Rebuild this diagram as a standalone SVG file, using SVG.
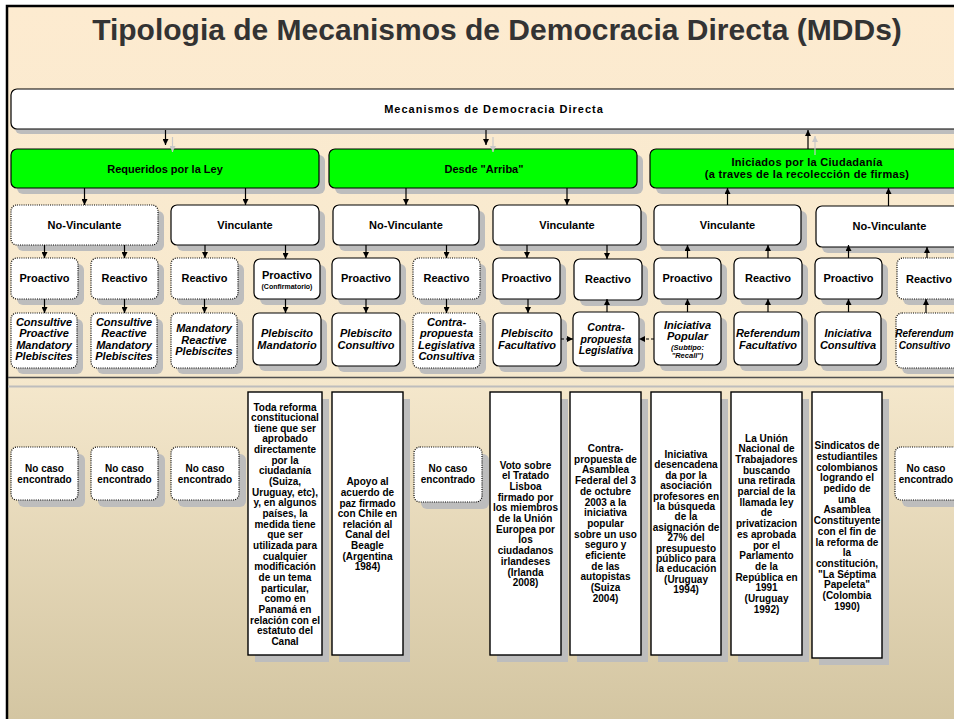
<svg xmlns="http://www.w3.org/2000/svg" width="954" height="719" viewBox="0 0 954 719">
<defs>
<linearGradient id="bg" x1="0" y1="0" x2="0" y2="1">
<stop offset="0" stop-color="#FDEBD0"/>
<stop offset="0.5" stop-color="#F6E9CE"/>
<stop offset="1" stop-color="#D3C5A1"/>
</linearGradient>
<marker id="ah" markerWidth="6" markerHeight="6" refX="6" refY="3" orient="auto" markerUnits="userSpaceOnUse">
<path d="M0,0 L6,3 L0,6 z" fill="#000"/>
</marker>
<marker id="ahg" markerWidth="6" markerHeight="6" refX="6" refY="3" orient="auto" markerUnits="userSpaceOnUse">
<path d="M0,0 L6,3 L0,6 z" fill="#C8C8C8"/>
</marker>
</defs>
<style>
.sh{fill:#BDBDBD}
.bx{fill:#fff;stroke:#000;stroke-width:1.2}
.dt{fill:#fff;stroke:#000;stroke-width:1.2;stroke-dasharray:1 1.2}
.gr{fill:#00FF00;stroke:#000;stroke-width:1.2}
.tb{fill:#fff;stroke:#000;stroke-width:1.4}
.t{font-family:"Liberation Sans",Arial,sans-serif;font-weight:bold;font-size:11px;text-anchor:middle;fill:#000}
.i{font-style:italic}
.sm{font-size:10px}
.xs{font-size:7px}
.c{stroke:#000;stroke-width:1.2;fill:none;marker-end:url(#ah)}
.cg{stroke:#C8C8C8;stroke-width:1.2;fill:none;marker-end:url(#ahg)}
.cd{stroke:#000;stroke-width:1.1;fill:none;stroke-dasharray:3 2;marker-end:url(#ah)}
</style>
<rect x="0" y="0" width="954" height="719" fill="#fff"/>
<rect x="7" y="6" width="960" height="720" fill="url(#bg)" stroke="#000" stroke-width="2.5"/>
<text x="497" y="40" font-family="Liberation Sans, Arial, sans-serif" font-weight="bold" font-size="30" text-anchor="middle" fill="#333">Tipologia de Mecanismos de Democracia Directa (MDDs)</text>

<line x1="8" y1="377.5" x2="954" y2="377.5" stroke="#505050" stroke-width="1.5"/>
<line x1="8" y1="386.5" x2="954" y2="386.5" stroke="#BDBDBD" stroke-width="2"/>

<g id="root">
<rect class="sh" x="15" y="94" width="960" height="40" rx="6"/>
<rect class="bx" x="11" y="89" width="960" height="40" rx="6"/>
<text class="t" x="494" y="113" letter-spacing="1">Mecanismos de Democracia Directa</text>
</g>

<g id="g-ley">
<rect class="sh" x="17" y="155" width="308" height="39" rx="6"/>
<rect class="gr" x="11" y="149" width="308" height="39" rx="6"/>
<text class="t" x="165" y="173">Requeridos por la Ley</text>
</g>
<g id="g-arriba">
<rect class="sh" x="335" y="155" width="308" height="39" rx="6"/>
<rect class="gr" x="329" y="149" width="308" height="39" rx="6"/>
<text class="t" x="484" y="173">Desde "Arriba"</text>
</g>
<g id="g-ciud">
<rect class="sh" x="656" y="155" width="310" height="39" rx="6"/>
<rect class="gr" x="650" y="149" width="310" height="39" rx="6"/>
<text class="t" x="807" y="166" letter-spacing="0.3">Iniciados por la Ciudadanía</text>
<text class="t" x="807" y="178" letter-spacing="0.3">(a traves de la recolección de firmas)</text>
</g>

<g id="r2-1"><rect class="sh" x="17" y="211" width="147" height="40" rx="6"/><rect class="dt" x="11" y="205" width="147" height="40" rx="6"/><text class="t" x="84.5" y="229">No-Vinculante</text></g>
<g id="r2-2"><rect class="sh" x="177" y="211" width="148" height="40" rx="6"/><rect class="bx" x="171" y="205" width="148" height="40" rx="6"/><text class="t" x="245" y="229">Vinculante</text></g>
<g id="r2-3"><rect class="sh" x="339" y="211" width="146" height="40" rx="6"/><rect class="bx" x="333" y="205" width="146" height="40" rx="6"/><text class="t" x="406" y="229">No-Vinculante</text></g>
<g id="r2-4"><rect class="sh" x="499" y="211" width="148" height="40" rx="6"/><rect class="bx" x="493" y="205" width="148" height="40" rx="6"/><text class="t" x="567" y="229">Vinculante</text></g>
<g id="r2-5"><rect class="sh" x="660" y="211" width="147" height="40" rx="6"/><rect class="bx" x="654" y="205" width="147" height="40" rx="6"/><text class="t" x="727.5" y="229">Vinculante</text></g>
<g id="r2-6"><rect class="sh" x="822" y="212" width="148" height="41" rx="6"/><rect class="bx" x="816" y="206" width="148" height="41" rx="6"/><text class="t" x="889.5" y="230">No-Vinculante</text></g>

<g id="r3-1"><rect class="sh" x="17" y="264" width="67" height="41" rx="6"/><rect class="dt" x="11" y="258" width="67" height="41" rx="6"/><text class="t" x="44.5" y="282">Proactivo</text></g>
<g id="r3-2"><rect class="sh" x="97" y="264" width="67" height="41" rx="6"/><rect class="dt" x="91" y="258" width="67" height="41" rx="6"/><text class="t" x="124.5" y="282">Reactivo</text></g>
<g id="r3-3"><rect class="sh" x="177" y="264" width="67" height="41" rx="6"/><rect class="dt" x="171" y="258" width="67" height="41" rx="6"/><text class="t" x="204.5" y="282">Reactivo</text></g>
<g id="r3-4"><rect class="sh" x="260" y="265" width="66" height="40" rx="6"/><rect class="bx" x="254" y="259" width="66" height="40" rx="6" stroke-width="1.5"/><text class="t" x="287" y="279">Proactivo</text><text class="t xs" x="287" y="288.5">(Confirmatorio)</text></g>
<g id="r3-5"><rect class="sh" x="338" y="264" width="68" height="41" rx="6"/><rect class="bx" x="332" y="258" width="68" height="41" rx="6"/><text class="t" x="366" y="282">Proactivo</text></g>
<g id="r3-6"><rect class="sh" x="419" y="264" width="67" height="41" rx="6"/><rect class="dt" x="413" y="258" width="67" height="41" rx="6"/><text class="t" x="446.5" y="282">Reactivo</text></g>
<g id="r3-7"><rect class="sh" x="499" y="264" width="67" height="41" rx="6"/><rect class="bx" x="493" y="258" width="67" height="41" rx="6"/><text class="t" x="526.5" y="282">Proactivo</text></g>
<g id="r3-8"><rect class="sh" x="580" y="265" width="68" height="41" rx="6"/><rect class="bx" x="574" y="259" width="68" height="41" rx="6" stroke-width="1.5"/><text class="t" x="608" y="283">Reactivo</text></g>
<g id="r3-9"><rect class="sh" x="660" y="264" width="67" height="41" rx="6"/><rect class="bx" x="654" y="258" width="67" height="41" rx="6"/><text class="t" x="687.5" y="282">Proactivo</text></g>
<g id="r3-10"><rect class="sh" x="740" y="264" width="68" height="41" rx="6"/><rect class="bx" x="734" y="258" width="68" height="41" rx="6"/><text class="t" x="768" y="282">Reactivo</text></g>
<g id="r3-11"><rect class="sh" x="821" y="264" width="67" height="41" rx="6"/><rect class="bx" x="815" y="258" width="67" height="41" rx="6"/><text class="t" x="848.5" y="282">Proactivo</text></g>
<g id="r3-12"><rect class="sh" x="903" y="264" width="68" height="41" rx="6"/><rect class="dt" x="897" y="258" width="68" height="41" rx="6"/><text class="t" x="929" y="283">Reactivo</text></g>

<g id="r4-1"><rect class="sh" x="17" y="319" width="66" height="55" rx="6"/><rect class="dt" x="11" y="313" width="66" height="55" rx="6"/>
<text class="t i" x="44" y="325.5">Consultive<tspan x="44" dy="11.6">Proactive</tspan><tspan x="44" dy="11.6">Mandatory</tspan><tspan x="44" dy="11.6">Plebiscites</tspan></text></g>
<g id="r4-2"><rect class="sh" x="97" y="319" width="66" height="55" rx="6"/><rect class="dt" x="91" y="313" width="66" height="55" rx="6"/>
<text class="t i" x="124" y="325.5">Consultive<tspan x="124" dy="11.6">Reactive</tspan><tspan x="124" dy="11.6">Mandatory</tspan><tspan x="124" dy="11.6">Plebiscites</tspan></text></g>
<g id="r4-3"><rect class="sh" x="177" y="319" width="66" height="55" rx="6"/><rect class="dt" x="171" y="313" width="66" height="55" rx="6"/>
<text class="t i" x="204" y="332">Mandatory<tspan x="204" dy="11.6">Reactive</tspan><tspan x="204" dy="11.6">Plebiscites</tspan></text></g>
<g id="r4-4"><rect class="sh" x="259" y="319" width="68" height="52" rx="6"/><rect class="bx" x="253" y="313" width="68" height="52" rx="6" stroke-width="1.5"/>
<text class="t i" x="287" y="337">Plebiscito<tspan x="287" dy="11.6">Mandatorio</tspan></text></g>
<g id="r4-5"><rect class="sh" x="338" y="319" width="68" height="53" rx="6"/><rect class="bx" x="332" y="313" width="68" height="53" rx="6"/>
<text class="t i" x="366" y="337">Plebiscito<tspan x="366" dy="11.6">Consultivo</tspan></text></g>
<g id="r4-6"><rect class="sh" x="419" y="319" width="67" height="55" rx="6"/><rect class="dt" x="413" y="313" width="67" height="55" rx="6"/>
<text class="t i" x="446.5" y="325.5">Contra-<tspan x="446.5" dy="11.6">propuesta</tspan><tspan x="446.5" dy="11.6">Legislativa</tspan><tspan x="446.5" dy="11.6">Consultiva</tspan></text></g>
<g id="r4-7"><rect class="sh" x="499" y="319" width="68" height="53" rx="6"/><rect class="bx" x="493" y="313" width="68" height="53" rx="6"/>
<text class="t i" x="527" y="337">Plebiscito<tspan x="527" dy="11.6">Facultativo</tspan></text></g>
<g id="r4-8"><rect class="sh" x="579" y="318" width="66" height="54" rx="6"/><rect class="bx" x="573" y="312" width="66" height="54" rx="6" stroke-width="1.5"/>
<text class="t i" x="606" y="331" style="font-size:10.5px">Contra-<tspan x="606" dy="11.5">propuesta</tspan><tspan x="606" dy="11.5">Legislativa</tspan></text></g>
<g id="r4-9"><rect class="sh" x="660" y="318" width="67" height="53" rx="6"/><rect class="bx" x="654" y="312" width="67" height="53" rx="6"/>
<text class="t i" x="687.5" y="328.5">Iniciativa<tspan x="687.5" dy="11.5">Popular</tspan></text>
<text class="t i" x="687.5" y="349.5" style="font-size:7.5px">(Subtipo:<tspan x="687.5" dy="8">"Recall")</tspan></text></g>
<g id="r4-10"><rect class="sh" x="740" y="318" width="68" height="53" rx="6"/><rect class="bx" x="734" y="312" width="68" height="53" rx="6"/>
<text class="t i" x="768" y="337">Referendum<tspan x="768" dy="11.6">Facultativo</tspan></text></g>
<g id="r4-11"><rect class="sh" x="821" y="318" width="66" height="53" rx="6"/><rect class="bx" x="815" y="312" width="66" height="53" rx="6"/>
<text class="t i" x="848" y="337">Iniciativa<tspan x="848" dy="11.6">Consultiva</tspan></text></g>
<g id="r4-12"><rect class="sh" x="902" y="319" width="68" height="55" rx="6"/><rect class="dt" x="896" y="313" width="68" height="55" rx="6"/>
<text class="t i" x="924.5" y="337" style="font-size:10px">Referendum<tspan x="924.5" dy="11.6">Consultivo</tspan></text></g>

<g id="e-1"><rect class="sh" x="18" y="454" width="67" height="53" rx="6"/><rect class="dt" x="11" y="447" width="67" height="53" rx="6"/><text class="t sm" x="44.5" y="471.5">No caso<tspan x="44.5" dy="11">encontrado</tspan></text></g>
<g id="e-2"><rect class="sh" x="98" y="454" width="67" height="53" rx="6"/><rect class="dt" x="91" y="447" width="67" height="53" rx="6"/><text class="t sm" x="124.5" y="471.5">No caso<tspan x="124.5" dy="11">encontrado</tspan></text></g>
<g id="e-3"><rect class="sh" x="178" y="454" width="68" height="53" rx="6"/><rect class="dt" x="171" y="447" width="68" height="53" rx="6"/><text class="t sm" x="205" y="471.5">No caso<tspan x="205" dy="11">encontrado</tspan></text></g>
<g id="e-4"><rect class="sh" x="255" y="399" width="74" height="263"/><rect class="tb" x="248" y="392" width="74" height="263"/>
<text class="t sm" x="285" y="410.5">Toda reforma<tspan x="285" dy="10.65">constitucional</tspan><tspan x="285" dy="10.65">tiene que ser</tspan><tspan x="285" dy="10.65">aprobado</tspan><tspan x="285" dy="10.65">directamente</tspan><tspan x="285" dy="10.65">por la</tspan><tspan x="285" dy="10.65">ciudadanía</tspan><tspan x="285" dy="10.65">(Suiza,</tspan><tspan x="285" dy="10.65">Uruguay, etc),</tspan><tspan x="285" dy="10.65">y, en algunos</tspan><tspan x="285" dy="10.65">países, la</tspan><tspan x="285" dy="10.65">medida tiene</tspan><tspan x="285" dy="10.65">que ser</tspan><tspan x="285" dy="10.65">utilizada para</tspan><tspan x="285" dy="10.65">cualquier</tspan><tspan x="285" dy="10.65">modificación</tspan><tspan x="285" dy="10.65">de un tema</tspan><tspan x="285" dy="10.65">particular,</tspan><tspan x="285" dy="10.65">como en</tspan><tspan x="285" dy="10.65">Panamá en</tspan><tspan x="285" dy="10.65">relación con el</tspan><tspan x="285" dy="10.65">estatuto del</tspan><tspan x="285" dy="10.65">Canal</tspan></text></g>
<g id="e-5"><rect class="sh" x="339" y="399" width="71" height="263"/><rect class="tb" x="332" y="392" width="71" height="263"/>
<text class="t sm" x="367.5" y="485.2">Apoyo al<tspan x="367.5" dy="10.65">acuerdo de</tspan><tspan x="367.5" dy="10.65">paz firmado</tspan><tspan x="367.5" dy="10.65">con Chile en</tspan><tspan x="367.5" dy="10.65">relación al</tspan><tspan x="367.5" dy="10.65">Canal del</tspan><tspan x="367.5" dy="10.65">Beagle</tspan><tspan x="367.5" dy="10.65">(Argentina</tspan><tspan x="367.5" dy="10.65">1984)</tspan></text></g>
<g id="e-6"><rect class="sh" x="421" y="454" width="68" height="55" rx="6"/><rect class="dt" x="414" y="447" width="68" height="55" rx="6"/><text class="t sm" x="448" y="471.5">No caso<tspan x="448" dy="11">encontrado</tspan></text></g>
<g id="e-7"><rect class="sh" x="497" y="399" width="71" height="263"/><rect class="tb" x="490" y="392" width="71" height="263"/>
<text class="t sm" x="525.5" y="468.5">Voto sobre<tspan x="525.5" dy="10.7">el Tratado</tspan><tspan x="525.5" dy="10.7">Lisboa</tspan><tspan x="525.5" dy="10.7">firmado por</tspan><tspan x="525.5" dy="10.7">los miembros</tspan><tspan x="525.5" dy="10.7">de la Unión</tspan><tspan x="525.5" dy="10.7">Europea por</tspan><tspan x="525.5" dy="10.7">los</tspan><tspan x="525.5" dy="10.7">ciudadanos</tspan><tspan x="525.5" dy="10.7">irlandeses</tspan><tspan x="525.5" dy="10.7">(Irlanda</tspan><tspan x="525.5" dy="10.7">2008)</tspan></text></g>
<g id="e-8"><rect class="sh" x="577" y="399" width="71" height="263"/><rect class="tb" x="570" y="392" width="71" height="263"/>
<text class="t sm" x="605.5" y="452">Contra-<tspan x="605.5" dy="10.7">propuesta de</tspan><tspan x="605.5" dy="10.7">Asamblea</tspan><tspan x="605.5" dy="10.7">Federal del 3</tspan><tspan x="605.5" dy="10.7">de octubre</tspan><tspan x="605.5" dy="10.7">2003 a la</tspan><tspan x="605.5" dy="10.7">iniciativa</tspan><tspan x="605.5" dy="10.7">popular</tspan><tspan x="605.5" dy="10.7">sobre un uso</tspan><tspan x="605.5" dy="10.7">seguro y</tspan><tspan x="605.5" dy="10.7">eficiente</tspan><tspan x="605.5" dy="10.7">de las</tspan><tspan x="605.5" dy="10.7">autopistas</tspan><tspan x="605.5" dy="10.7">(Suiza</tspan><tspan x="605.5" dy="10.7">2004)</tspan></text></g>
<g id="e-9"><rect class="sh" x="658" y="399" width="70" height="263"/><rect class="tb" x="651" y="392" width="70" height="263"/>
<text class="t sm" x="686" y="458">Iniciativa<tspan x="686" dy="10.4">desencadena</tspan><tspan x="686" dy="10.4">da por la</tspan><tspan x="686" dy="10.4">asociación</tspan><tspan x="686" dy="10.4">profesores en</tspan><tspan x="686" dy="10.4">la búsqueda</tspan><tspan x="686" dy="10.4">de la</tspan><tspan x="686" dy="10.4">asignación de</tspan><tspan x="686" dy="10.4">27% del</tspan><tspan x="686" dy="10.4">presupuesto</tspan><tspan x="686" dy="10.4">público para</tspan><tspan x="686" dy="10.4">la educación</tspan><tspan x="686" dy="10.4">(Uruguay</tspan><tspan x="686" dy="10.4">1994)</tspan></text></g>
<g id="e-10"><rect class="sh" x="738" y="399" width="71" height="263"/><rect class="tb" x="731" y="392" width="71" height="263"/>
<text class="t sm" x="766.5" y="441.8">La Unión<tspan x="766.5" dy="10.67">Nacional de</tspan><tspan x="766.5" dy="10.67">Trabajadores</tspan><tspan x="766.5" dy="10.67">buscando</tspan><tspan x="766.5" dy="10.67">una retirada</tspan><tspan x="766.5" dy="10.67">parcial de la</tspan><tspan x="766.5" dy="10.67">llamada ley</tspan><tspan x="766.5" dy="10.67">de</tspan><tspan x="766.5" dy="10.67">privatizacion</tspan><tspan x="766.5" dy="10.67">es aprobada</tspan><tspan x="766.5" dy="10.67">por el</tspan><tspan x="766.5" dy="10.67">Parlamento</tspan><tspan x="766.5" dy="10.67">de la</tspan><tspan x="766.5" dy="10.67">República en</tspan><tspan x="766.5" dy="10.67">1991</tspan><tspan x="766.5" dy="10.67">(Uruguay</tspan><tspan x="766.5" dy="10.67">1992)</tspan></text></g>
<g id="e-11"><rect class="sh" x="819" y="399" width="70" height="266"/><rect class="tb" x="812" y="392" width="70" height="266"/>
<text class="t sm" x="847" y="449.2">Sindicatos de<tspan x="847" dy="10.7">estudiantiles</tspan><tspan x="847" dy="10.7">colombianos</tspan><tspan x="847" dy="10.7">logrando el</tspan><tspan x="847" dy="10.7">pedido de</tspan><tspan x="847" dy="10.7">una</tspan><tspan x="847" dy="10.7">Asamblea</tspan><tspan x="847" dy="10.7">Constituyente</tspan><tspan x="847" dy="10.7">con el fin de</tspan><tspan x="847" dy="10.7">la reforma de</tspan><tspan x="847" dy="10.7">la</tspan><tspan x="847" dy="10.7">constitución,</tspan><tspan x="847" dy="10.7">"La Séptima</tspan><tspan x="847" dy="10.7">Papeleta"</tspan><tspan x="847" dy="10.7">(Colombia</tspan><tspan x="847" dy="10.7">1990)</tspan></text></g>
<g id="e-12"><rect class="sh" x="902" y="454" width="68" height="53" rx="6"/><rect class="dt" x="895" y="447" width="68" height="53" rx="6"/><text class="t sm" x="926" y="471.5">No caso<tspan x="926" dy="11">encontrado</tspan></text></g>

<g id="connectors">
<line class="cg" x1="172.5" y1="137" x2="172.5" y2="152"/>
<line class="c" x1="165.5" y1="130" x2="165.5" y2="145"/>
<line class="cg" x1="493" y1="137" x2="493" y2="152"/>
<line class="c" x1="486" y1="130" x2="486" y2="145"/>
<line class="cg" x1="815" y1="155" x2="815" y2="136"/>
<line class="c" x1="808" y1="149" x2="808" y2="130"/>

<line class="c" x1="84.5" y1="188" x2="84.5" y2="205"/>
<line class="c" x1="245.5" y1="188" x2="245.5" y2="205"/>
<line class="c" x1="406" y1="188" x2="406" y2="205"/>
<line class="c" x1="567" y1="188" x2="567" y2="205"/>
<line class="c" x1="727.5" y1="205" x2="727.5" y2="188"/>
<line class="c" x1="888.5" y1="206" x2="888.5" y2="188"/>

<line class="c" x1="44.5" y1="245" x2="44.5" y2="258"/>
<line class="c" x1="124.5" y1="245" x2="124.5" y2="258"/>
<line class="c" x1="205" y1="245" x2="205" y2="258"/>
<line class="c" x1="285.5" y1="245" x2="285.5" y2="259"/>
<line class="c" x1="366" y1="245" x2="366" y2="258"/>
<line class="c" x1="446.5" y1="245" x2="446.5" y2="258"/>
<line class="c" x1="527" y1="245" x2="527" y2="258"/>
<line class="c" x1="607" y1="245" x2="607" y2="259"/>
<line class="c" x1="687.5" y1="258" x2="687.5" y2="245"/>
<line class="c" x1="768" y1="258" x2="768" y2="245"/>
<line class="c" x1="848.5" y1="258" x2="848.5" y2="245"/>
<line class="c" x1="927" y1="258" x2="927" y2="247"/>

<line class="c" x1="44.5" y1="299" x2="44.5" y2="313"/>
<line class="c" x1="124.5" y1="299" x2="124.5" y2="313"/>
<line class="c" x1="204.5" y1="299" x2="204.5" y2="313"/>
<line class="c" x1="285.5" y1="299" x2="285.5" y2="313"/>
<line class="c" x1="366" y1="299" x2="366" y2="313"/>
<line class="c" x1="446.5" y1="299" x2="446.5" y2="313"/>
<line class="c" x1="528" y1="299" x2="528" y2="313"/>
<line class="c" x1="607" y1="312" x2="607" y2="299"/>
<line class="c" x1="687.5" y1="312" x2="687.5" y2="299"/>
<line class="c" x1="768" y1="312" x2="768" y2="299"/>
<line class="c" x1="848.5" y1="312" x2="848.5" y2="299"/>
<line class="c" x1="926" y1="313" x2="926" y2="299"/>

<line class="cd" x1="561" y1="339" x2="573" y2="339"/>
<line class="cd" x1="654" y1="339" x2="639" y2="339"/>
</g>
</svg>
